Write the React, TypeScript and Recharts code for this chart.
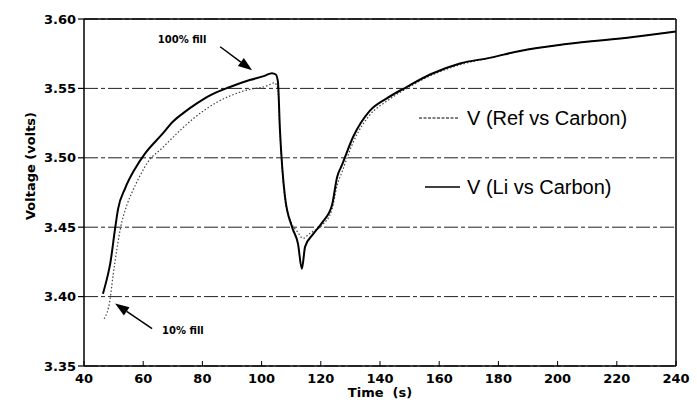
import React from 'react';
import { LineChart, Line, XAxis, YAxis, CartesianGrid, ReferenceLine, Legend } from 'recharts';

// Solid curve: V (Li vs Carbon)
const liTime = [46.4, 48.1, 48.8, 50.5, 51.5, 53.9, 57.2, 60.6, 66.4, 70, 73.4, 78, 82.6, 89.3, 96, 101, 103.5, 104.8, 105.5, 106.2, 107.9, 110.3, 112.3, 113.6, 114.7, 117.4, 120.7, 123.8, 125.5, 127.2, 130.9, 136.6, 142.4, 149, 156.9, 167, 177, 187.3, 203, 225.5, 240];
const liVolt = [3.402, 3.416, 3.423, 3.449, 3.463, 3.478, 3.492, 3.503, 3.517, 3.526, 3.532, 3.539, 3.545, 3.551, 3.556, 3.559, 3.561, 3.560, 3.555, 3.520, 3.472, 3.450, 3.438, 3.420, 3.436, 3.445, 3.454, 3.466, 3.486, 3.495, 3.515, 3.534, 3.543, 3.551, 3.560, 3.568, 3.572, 3.577, 3.582, 3.587, 3.591];

// Dotted curve: V (Ref vs Carbon)
const refTime = [46.8, 48.8, 49.8, 51.1, 52.2, 54.5, 56.2, 58.9, 61.6, 66.4, 73.1, 76.8, 84.9, 93.7, 102, 104.3, 105.5, 106.2, 107.9, 110.3, 112, 114, 116, 117.4, 120.7, 123.8, 125.5, 127.2, 130.9, 136.6, 142.4, 149, 156.9, 167, 177, 187.3, 203, 225.5, 240];
const refVolt = [3.384, 3.398, 3.415, 3.434, 3.448, 3.466, 3.475, 3.487, 3.497, 3.507, 3.521, 3.528, 3.540, 3.548, 3.552, 3.554, 3.550, 3.518, 3.470, 3.452, 3.447, 3.442, 3.445, 3.447, 3.452, 3.463, 3.480, 3.490, 3.511, 3.531, 3.541, 3.550, 3.559, 3.567, 3.572, 3.577, 3.582, 3.587, 3.591];

const seriesNames = ['V (Ref vs Carbon)', 'V (Li vs Carbon)'];
const xTicks = [40, 60, 80, 100, 120, 140, 160, 180, 200, 220, 240];
const yTicks = [3.35, 3.4, 3.45, 3.5, 3.55, 3.6];

// Annotations: label, arrow tail (t, V), arrow head (t, V)
const annoLabels = ['100% fill', '10% fill'];
const annoTail = [[86, 3.58], [63, 3.377]];
const annoHead = [[96.8, 3.563], [50.5, 3.395]];

const liData = liTime.map((t, i) => ({ t, v: liVolt[i] }));
const refData = refTime.map((t, i) => ({ t, v: refVolt[i] }));

const boldFont = { fontFamily: 'DejaVu Sans, sans-serif', fontWeight: 700 as const };

const XTick = (props: any) => {
  const { x, y, payload } = props;
  return (
    <g>
      <line x1={x} y1={y} x2={x} y2={y - 5} stroke="#000" strokeWidth={1} />
      <text x={x} y={y + 17} textAnchor="middle" fontSize={13} fill="#000" style={boldFont}>
        {payload.value}
      </text>
    </g>
  );
};

const makeArrow = (label: string, textDx: number, textDy: number, anchor: string) => (p: any) => {
  const { x1, y1, x2, y2 } = p;
  const dx = x2 - x1;
  const dy = y2 - y1;
  const len = Math.sqrt(dx * dx + dy * dy) || 1;
  const ux = dx / len;
  const uy = dy / len;
  const hl = 14;
  const hw = 5;
  const bx = x2 - ux * hl;
  const by = y2 - uy * hl;
  const pts = `${x2},${y2} ${bx - uy * hw},${by + ux * hw} ${bx + uy * hw},${by - ux * hw}`;
  return (
    <g>
      <line x1={x1} y1={y1} x2={bx} y2={by} stroke="#000" strokeWidth={1.5} />
      <polygon points={pts} fill="#000" />
      <text x={x1 + textDx} y={y1 + textDy} textAnchor={anchor} dominantBaseline="central" fontSize={10} fill="#000" style={boldFont}>
        {label}
      </text>
    </g>
  );
};

const arrowShapes = [makeArrow(annoLabels[0], -38, -7, 'middle'), makeArrow(annoLabels[1], 10, 2, 'start')];

const legendStyles = [
  { x1: 0, x2: 39, dash: '3 1.5', width: 1 },
  { x1: 6, x2: 41, dash: undefined, width: 1.6 },
];

const renderLegend = (props: any) => {
  const payload = [...(props.payload || [])].sort(
    (a: any, b: any) => seriesNames.indexOf(a.value) - seriesNames.indexOf(b.value)
  );
  return (
    <div style={{ fontFamily: 'Liberation Sans, Arial, sans-serif', fontSize: 20, color: '#000' }}>
      {payload.map((p: any, i: number) => {
        const idx = seriesNames.indexOf(p.value);
        const s = legendStyles[idx >= 0 ? idx : i] || legendStyles[1];
        return (
          <div key={p.value} style={{ display: 'flex', alignItems: 'center', height: 36, marginBottom: i === 0 ? 33 : 0, whiteSpace: 'nowrap' }}>
            <svg width={48} height={10} style={{ flex: 'none' }}>
              <line x1={s.x1} x2={s.x2} y1={5} y2={5} stroke="#000" strokeWidth={s.width} strokeDasharray={s.dash} />
            </svg>
            <span>{p.value}</span>
          </div>
        );
      })}
    </div>
  );
};

export default function App() {
  return (
    <div>
      <style>{'body{margin:0;background:#fff}'}</style>
      <LineChart width={697} height={405} margin={{ top: 19, right: 21, bottom: 0, left: 0 }}>
        <CartesianGrid vertical={false} stroke="#222" strokeWidth={1} strokeDasharray="14 3 4 3" />
        <XAxis
          dataKey="t"
          type="number"
          domain={[40, 240]}
          ticks={xTicks}
          allowDataOverflow
          height={39}
          tickSize={0}
          tickMargin={0}
          tickLine={false}
          axisLine={{ stroke: '#000', strokeWidth: 1.5 }}
          tick={<XTick />}
          interval={0}
          label={{
            content: (lp: any) => {
              const vb = lp.viewBox || { x: 84, y: 366, width: 592 };
              return (
                <text x={vb.x + vb.width / 2} y={vb.y + 31} textAnchor="middle" fontSize={13} fill="#000" style={boldFont}>
                  {'Time\u00a0\u00a0(s)'}
                </text>
              );
            },
          }}
        />
        <YAxis
          type="number"
          domain={[3.35, 3.6]}
          ticks={yTicks}
          allowDataOverflow
          width={84}
          interval={0}
          tickSize={6}
          tickMargin={2}
          tickFormatter={(v: number) => v.toFixed(2)}
          tick={{ fontSize: 13, fill: '#000', ...boldFont }}
          tickLine={{ stroke: '#000', strokeWidth: 1.2 }}
          axisLine={{ stroke: '#000', strokeWidth: 1.5 }}
          label={{
            content: () => (
              <text x={30} y={166} transform="rotate(-90 30 166)" textAnchor="middle" dominantBaseline="central" fontSize={13} fill="#000" style={boldFont}>
                Voltage (volts)
              </text>
            ),
          }}
        />
        <ReferenceLine y={3.6} stroke="#000" strokeWidth={1.5} />
        <ReferenceLine x={240} stroke="#000" strokeWidth={1.5} />
        {annoLabels.map((l, i) => (
          <ReferenceLine
            key={l}
            segment={[
              { x: annoTail[i][0], y: annoTail[i][1] },
              { x: annoHead[i][0], y: annoHead[i][1] },
            ]}
            ifOverflow="visible"
            shape={arrowShapes[i]}
          />
        ))}
        <Line
          data={refData}
          dataKey="v"
          name={seriesNames[0]}
          type="monotone"
          stroke="#444"
          strokeWidth={1.2}
          strokeDasharray="1.5 2"
          dot={false}
          activeDot={false}
          isAnimationActive={false}
        />
        <Line
          data={liData}
          dataKey="v"
          name={seriesNames[1]}
          type="monotone"
          stroke="#000"
          strokeWidth={2}
          dot={false}
          activeDot={false}
          isAnimationActive={false}
        />
        <Legend
          layout="vertical"
          align="center"
          verticalAlign="middle"
          content={renderLegend}
          wrapperStyle={{ left: 419, top: 100, width: 270 }}
        />
      </LineChart>
    </div>
  );
}
